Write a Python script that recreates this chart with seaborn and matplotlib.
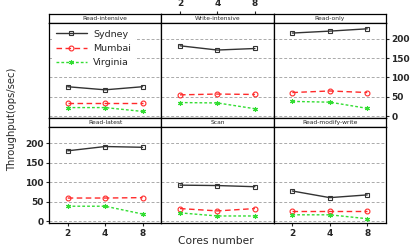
import numpy as np
import pandas as pd
import seaborn as sns
import matplotlib
matplotlib.use("Agg")
import matplotlib.pyplot as plt

# data
#--------------------------------------
cores = [2, 4, 8]
sites = ["Sydney", "Mumbai", "Virginia"]
panels = ["Read-intensive", "Write-intensive", "Read-only",
          "Read-latest", "Scan", "Read-modify-write"]

sydney = {
    "Read-intensive":    [76, 68, 76],
    "Write-intensive":   [182, 171, 175],
    "Read-only":         [215, 220, 226],
    "Read-latest":       [180, 191, 189],
    "Scan":              [92, 91, 88],
    "Read-modify-write": [77, 60, 67],
}
mumbai = {
    "Read-intensive":    [34, 34, 34],
    "Write-intensive":   [55, 57, 56],
    "Read-only":         [61, 65, 61],
    "Read-latest":       [59, 59, 60],
    "Scan":              [32, 26, 32],
    "Read-modify-write": [26, 26, 26],
}
virginia = {
    "Read-intensive":    [22, 22, 12],
    "Write-intensive":   [35, 34, 19],
    "Read-only":         [38, 36, 20],
    "Read-latest":       [38, 38, 18],
    "Scan":              [21, 13, 13],
    "Read-modify-write": [16, 16, 6],
}
yticks = [0, 50, 100, 150, 200]

rows = []
for site, table in zip(sites, [sydney, mumbai, virginia]):
    for panel in panels:
        for c, v in zip(cores, table[panel]):
            rows.append({"site": site, "panel": panel, "cores": c, "value": v})
df = pd.DataFrame(rows)

colors = {"Sydney": "#333333", "Mumbai": "#ff2a2a", "Virginia": "#33dd33"}
styles = {"Sydney": "-", "Mumbai": (0, (4, 2.5)), "Virginia": (0, (2, 1.5))}
markers = {"Sydney": "s", "Mumbai": "o", "Virginia": (6, 2, 0)}

# figure with lattice-like layout
#--------------------------------------
sns.set_style("white")
plt.rcParams['font.family'] = ['DejaVu Sans']
fig = plt.figure(figsize=(4.15, 2.48), dpi=100)
gs = fig.add_gridspec(4, 3, height_ratios=[9, 95, 9, 96], hspace=0, wspace=0,
                      left=0.118, right=0.930, top=0.9435, bottom=0.1008)

xlim = (2 / np.sqrt(2), 8 * np.sqrt(2))
ylim = (-5, 241)

for i, panel in enumerate(panels):
    r, c = divmod(i, 3)
    strip = fig.add_subplot(gs[2 * r, c])
    ax = fig.add_subplot(gs[2 * r + 1, c])

    for a in (strip, ax):
        for s in a.spines.values():
            s.set_color("black")
            s.set_linewidth(0.9)

    strip.set_xscale("log", base=2)
    strip.set_xlim(xlim)
    strip.set_yticks([])
    strip.text(0.5, 0.5, panel, transform=strip.transAxes, ha="center",
               va="center", fontsize=4.3)

    sub = df[df.panel == panel]
    for site in sites:
        sns.lineplot(data=sub[sub.site == site], x="cores", y="value",
                     color=colors[site], linestyle=styles[site],
                     marker=markers[site], markersize=3.5,
                     markerfacecolor="none", markeredgecolor=colors[site],
                     markeredgewidth=0.8, linewidth=1.0, label=site, ax=ax)
    ax.set_xscale("log", base=2)
    ax.set_xlim(xlim)
    ax.set_ylim(ylim)
    ax.set_xlabel("")
    ax.set_ylabel("")
    for y in yticks:
        ax.axhline(y, color="#aaaaaa", linestyle=(0, (3, 2)), linewidth=0.7,
                   zorder=0)

    # ticks alternate as in lattice
    ax.set_xticks(cores)
    ax.xaxis.set_minor_locator(matplotlib.ticker.NullLocator())
    strip.xaxis.set_minor_locator(matplotlib.ticker.NullLocator())
    ax.set_yticks(yticks)
    ax.tick_params(axis="both", length=2.5, width=0.8, direction="out",
                   labelsize=6.5, pad=1.5)
    strip.tick_params(axis="x", length=2.5, width=0.8, direction="out",
                      labelsize=6.5, pad=1.5)

    if r == 0 and c == 1:
        strip.set_xticks(cores)
        strip.set_xticklabels([str(x) for x in cores], fontweight="bold")
        strip.xaxis.tick_top()
    else:
        strip.set_xticks([])
    if r == 1 and c != 1:
        ax.set_xticklabels([str(x) for x in cores], fontweight="bold")
        ax.xaxis.tick_bottom()
    else:
        ax.tick_params(axis="x", bottom=False, labelbottom=False)

    if r == 0 and c == 2:
        ax.yaxis.tick_right()
        ax.set_yticklabels([str(y) for y in yticks], fontweight="bold")
    elif r == 1 and c == 0:
        ax.yaxis.tick_left()
        ax.set_yticklabels([str(y) for y in yticks], fontweight="bold")
    else:
        ax.tick_params(axis="y", left=False, right=False,
                       labelleft=False, labelright=False)

    if i == 0:
        handles, labels = ax.get_legend_handles_labels()
        leg = ax.legend(handles, labels, loc="upper left", fontsize=6.8,
                        frameon=True, framealpha=1, edgecolor="white",
                        handlelength=3.3, handletextpad=0.7,
                        labelspacing=0.55, borderaxespad=0.3,
                        bbox_to_anchor=(0.0, 1.0))
        leg.get_frame().set_linewidth(0)
    else:
        if ax.get_legend() is not None:
            ax.get_legend().remove()

fig.text(0.52, 0.03, "Cores number", ha="center", va="center", fontsize=7.7)
fig.text(0.028, 0.52, "Throughput(ops/sec)", ha="center", va="center",
         rotation=90, fontsize=7.2)

plt.savefig("out.png", dpi=100)
